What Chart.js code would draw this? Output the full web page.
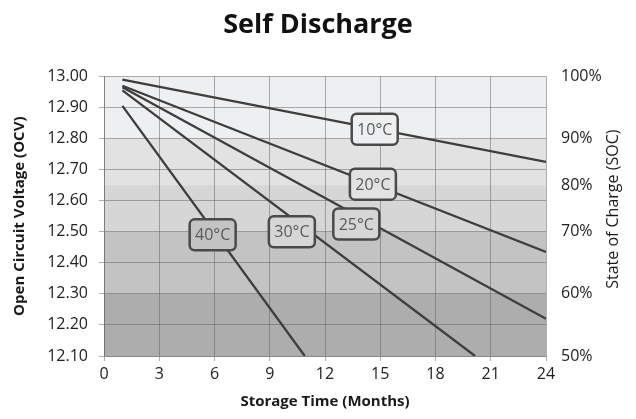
<!DOCTYPE html>
<html>
<head>
<meta charset="utf-8">
<script src="https://cdn.jsdelivr.net/npm/chart.js@4"></script>
<style>
  body { margin: 0; background: #fff; }
  canvas { display: block; }
</style>
</head>
<body>
<canvas id="selfdischarge" width="636" height="419"></canvas>
<script>
// series: straight lines, start point and end point (months, OCV)
const tempLabels = ['10°C', '20°C', '25°C', '30°C', '40°C'];
const startMonth = [1, 1, 1, 1, 1];
const startOcv = [12.99, 12.97, 12.965, 12.955, 12.905];
const endMonth = [24, 24, 24, 20.15, 10.9];
const endOcv = [12.725, 12.435, 12.22, 12.10, 12.10];

// where the temperature boxes sit
const labelMonth = [14.7, 14.6, 13.7, 10.2, 5.9];
const labelOcv = [12.83, 12.653, 12.525, 12.50, 12.49];

const monthTicks = [0, 3, 6, 9, 12, 15, 18, 21, 24];
const ocvTicks = [12.10, 12.20, 12.30, 12.40, 12.50, 12.60, 12.70, 12.80, 12.90, 13.00];

// state of charge scale on the right, at given voltages
const socOcv = [13.00, 12.80, 12.65, 12.50, 12.30, 12.10];
const socLabels = ['100%', '90%', '80%', '70%', '60%', '50%'];
const bandColors = ['#eeeff0', '#e2e2e2', '#d6d6d6', '#c3c3c3', '#adadad'];

const font = '"Open Sans", sans-serif';

function bandColorAt(v) {
    for (let i = 0; i < bandColors.length; i++) {
        if (v <= socOcv[i] && v >= socOcv[i + 1]) return bandColors[i];
    }
    return bandColors[0];
}

const datasets = tempLabels.map(function (name, i) {
    return {
        label: name,
        data: [{x: startMonth[i], y: startOcv[i]}, {x: endMonth[i], y: endOcv[i]}],
        borderColor: '#3d3d3d',
        borderWidth: 2.3,
        pointRadius: 0,
        tension: 0
    };
});

const bandsPlugin = {
    id: 'bands',
    beforeDraw(chart) {
        const ctx = chart.ctx;
        const area = chart.chartArea;
        const y = chart.scales.y;
        ctx.save();
        for (let i = 0; i < bandColors.length; i++) {
            const top = y.getPixelForValue(socOcv[i]);
            const bottom = y.getPixelForValue(socOcv[i + 1]);
            ctx.fillStyle = bandColors[i];
            ctx.fillRect(area.left, top, area.right - area.left, bottom - top);
        }
        ctx.restore();
    }
};

const boxPlugin = {
    id: 'tempBoxes',
    afterDatasetsDraw(chart) {
        const ctx = chart.ctx;
        const xs = chart.scales.x;
        const ys = chart.scales.y;
        ctx.save();
        for (let i = 0; i < tempLabels.length; i++) {
            const cx = xs.getPixelForValue(labelMonth[i]);
            const cy = ys.getPixelForValue(labelOcv[i]);
            const w = 46, h = 31;
            ctx.beginPath();
            ctx.roundRect(cx - w / 2, cy - h / 2, w, h, 5);
            ctx.fillStyle = bandColorAt(labelOcv[i]);
            ctx.fill();
            ctx.lineWidth = 2.5;
            ctx.strokeStyle = '#4a4a4a';
            ctx.stroke();
            ctx.fillStyle = '#5a5a5a';
            ctx.font = '16px ' + font;
            ctx.textAlign = 'center';
            ctx.textBaseline = 'middle';
            ctx.fillText(tempLabels[i], cx, cy + 1);
        }
        // right axis title, reading bottom to top
        const area = chart.chartArea;
        ctx.translate(613, (area.top + area.bottom) / 2 - 7);
        ctx.rotate(-Math.PI / 2);
        ctx.fillStyle = '#1a1a1a';
        ctx.font = '16px ' + font;
        ctx.fillText('State of Charge (SOC)', 0, 0);
        ctx.restore();
    }
};

const gridColor = 'rgba(95,95,95,0.5)';

new Chart('selfdischarge', {
    type: 'line',
    data: {datasets: datasets},
    plugins: [bandsPlugin, boxPlugin],
    options: {
        responsive: false,
        animation: false,
        layout: {padding: 0},
        plugins: {
            legend: {display: false},
            tooltip: {enabled: false},
            title: {
                display: true,
                text: 'Self Discharge',
                color: '#111',
                font: {family: font, size: 27, weight: 'bold'},
                padding: {top: 9, bottom: 35}
            }
        },
        scales: {
            x: {
                type: 'linear',
                min: 0,
                max: 24,
                afterBuildTicks: function (s) { s.ticks = monthTicks.map(v => ({value: v})); },
                afterFit: function (s) { s.height = 63; },
                grid: {color: gridColor, tickLength: 5},
                border: {color: gridColor},
                ticks: {color: '#222', font: {family: font, size: 16}, padding: 4, maxRotation: 0},
                title: {
                    display: true,
                    text: 'Storage Time (Months)',
                    color: '#1a1a1a',
                    font: {family: font, size: 15, weight: 'bold'},
                    padding: {top: 0, bottom: 8}
                }
            },
            y: {
                position: 'left',
                min: 12.10,
                max: 13.00,
                afterBuildTicks: function (s) { s.ticks = ocvTicks.map(v => ({value: v})); },
                afterFit: function (s) { s.width = 104; },
                grid: {color: gridColor, tickLength: 5},
                border: {color: gridColor},
                ticks: {
                    color: '#222',
                    font: {family: font, size: 16},
                    padding: 11,
                    callback: v => v.toFixed(2)
                },
                title: {
                    display: true,
                    text: 'Open Circuit Voltage (OCV)',
                    color: '#1a1a1a',
                    font: {family: font, size: 15, weight: 'bold'},
                    padding: {top: 11, bottom: 0}
                }
            },
            soc: {
                position: 'right',
                min: 12.10,
                max: 13.00,
                afterBuildTicks: function (s) { s.ticks = socOcv.map(v => ({value: v})); },
                afterFit: function (s) { s.width = 90; },
                grid: {display: false, drawTicks: false},
                border: {display: false},
                ticks: {
                    color: '#222',
                    font: {family: font, size: 16},
                    padding: 15,
                    callback: function (v) { return socLabels[socOcv.indexOf(v)]; }
                }
            }
        }
    }
});
</script>
</body>
</html>
